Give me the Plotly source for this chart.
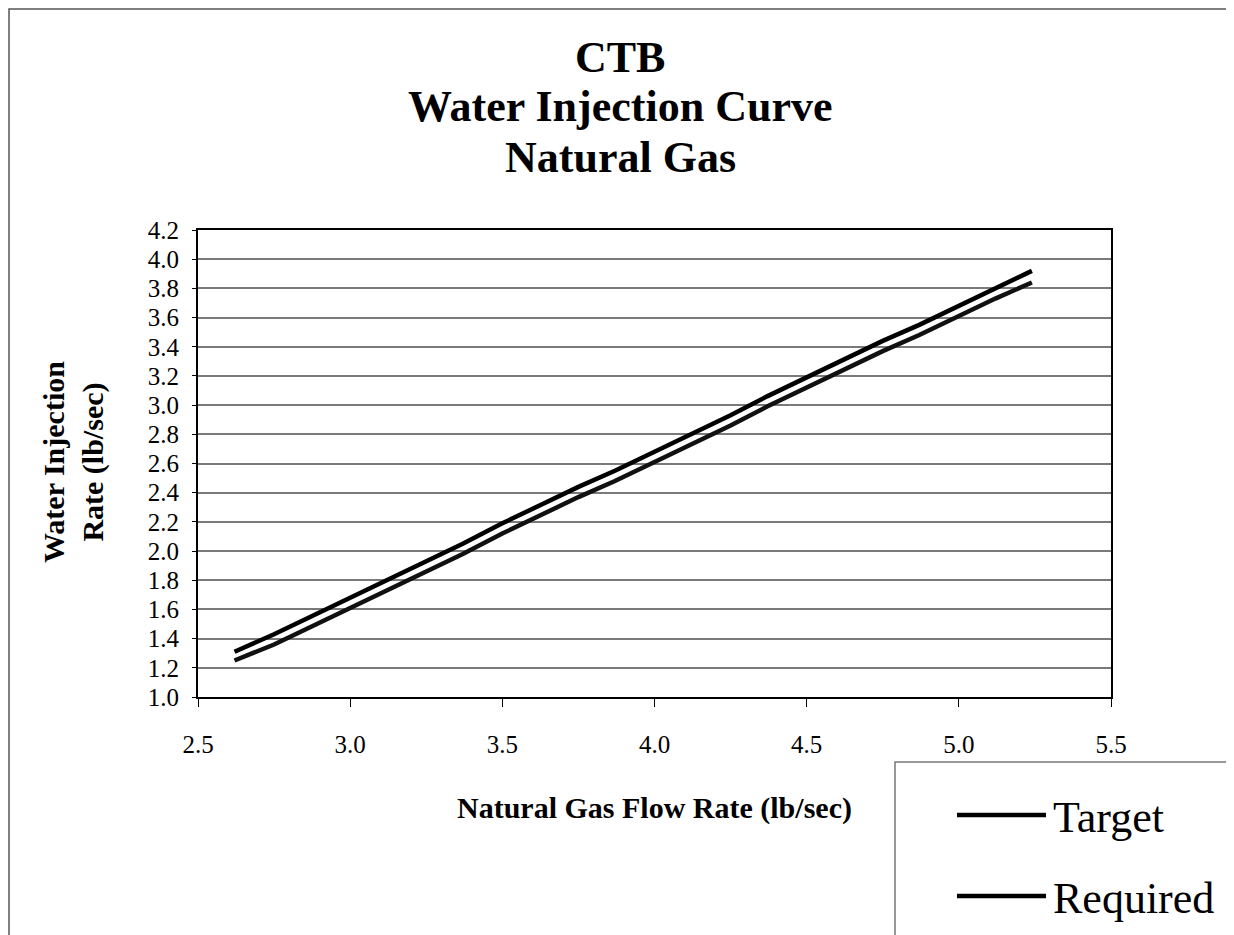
import plotly.graph_objects as go

# natural gas flow rate (lb/sec)
gas_flow = [2.62, 2.75, 2.87, 3.00, 3.12, 3.25, 3.37, 3.50, 3.62, 3.75, 3.87,
            4.00, 4.12, 4.25, 4.37, 4.50, 4.62, 4.75, 4.87, 5.00, 5.12, 5.24]

# water injection rate (lb/sec)
target = [1.31, 1.43, 1.55, 1.68, 1.80, 1.93, 2.05, 2.19, 2.31, 2.44, 2.55,
          2.68, 2.80, 2.93, 3.06, 3.19, 3.31, 3.44, 3.55, 3.68, 3.80, 3.92]
required = [1.25, 1.36, 1.48, 1.61, 1.73, 1.86, 1.98, 2.12, 2.24, 2.37, 2.48,
            2.61, 2.73, 2.86, 2.99, 3.12, 3.24, 3.37, 3.48, 3.61, 3.73, 3.84]

x_ticks = [2.5, 3.0, 3.5, 4.0, 4.5, 5.0, 5.5]
y_ticks = [1.0, 1.2, 1.4, 1.6, 1.8, 2.0, 2.2, 2.4, 2.6, 2.8, 3.0, 3.2, 3.4,
           3.6, 3.8, 4.0, 4.2]

title_lines = ["CTB", "Water Injection Curve", "Natural Gas"]

FONT = "Liberation Serif"
OFF = 8  # page body margin
W, H = 1234 - OFF, 935 - OFF
# plot area edges in page pixels
L, R, T, B = 198, 1111, 230, 697


def px_x(px):
    return (px - L) / (R - L)


def px_y(py):
    return (B - py) / (B - T)


fig = go.Figure()
fig.add_trace(go.Scatter(x=gas_flow, y=target, mode="lines", name="Target",
                         line=dict(color="black", width=4.5)))
fig.add_trace(go.Scatter(x=gas_flow, y=required, mode="lines", name="Required",
                         line=dict(color="#111111", width=4.5)))

axis_common = dict(
    showline=True, linecolor="black", linewidth=2, mirror=True,
    zeroline=False, ticks="outside", tickcolor="black",
    tickfont=dict(family=FONT, size=25, color="black"),
    tickformat=".1f",
)
fig.update_xaxes(range=[2.5, 5.5], tickvals=x_ticks, ticklen=8,
                 ticklabelstandoff=16, showgrid=False, **axis_common)
fig.update_yaxes(range=[1.0, 4.2], tickvals=y_ticks, ticklen=4,
                 ticklabelstandoff=8, showgrid=True, gridcolor="#7a7a7a",
                 gridwidth=1.5, **axis_common)

shapes = [
    # outer chart border
    dict(type="rect", xref="paper", yref="paper", x0=px_x(9), x1=px_x(1250),
         y0=px_y(9), y1=px_y(950), line=dict(color="#555555", width=1.5),
         layer="below"),
    # legend box
    dict(type="rect", xref="paper", yref="paper", x0=px_x(895), x1=px_x(1250),
         y0=px_y(762), y1=px_y(950), line=dict(color="#777777", width=1.5),
         fillcolor="white"),
]
annotations = [
    dict(text="<b>Natural Gas Flow Rate (lb/sec)</b>", xref="paper", yref="paper",
         x=px_x(654), y=px_y(808), xanchor="center", yanchor="middle",
         showarrow=False, font=dict(family=FONT, size=30, color="black")),
    dict(text="<b>Water Injection<br>Rate (lb/sec)</b>", xref="paper", yref="paper",
         x=px_x(73), y=px_y(462), xanchor="center", yanchor="middle",
         showarrow=False, textangle=-90,
         font=dict(family=FONT, size=30, color="black")),
]
for line, py in zip(title_lines, [57, 106, 158]):
    annotations.append(dict(text="<b>" + line + "</b>", xref="paper", yref="paper",
                            x=px_x(620), y=px_y(py), xanchor="center",
                            yanchor="middle", showarrow=False,
                            font=dict(family=FONT, size=44, color="black")))

legend_items = [("Target", 815), ("Required", 896)]
for name, py in legend_items:
    shapes.append(dict(type="line", xref="paper", yref="paper",
                       x0=px_x(957), x1=px_x(1046), y0=px_y(py), y1=px_y(py),
                       line=dict(color="black", width=4.5)))
    annotations.append(dict(text=name, xref="paper", yref="paper",
                            x=px_x(1051), y=px_y(py + 2), xanchor="left",
                            yanchor="middle", showarrow=False,
                            font=dict(family=FONT, size=44, color="black")))

fig.update_layout(
    width=W, height=H,
    margin=dict(l=L - OFF, r=W - (R - OFF), t=T - OFF, b=H - (B - OFF)),
    paper_bgcolor="white", plot_bgcolor="white",
    showlegend=False,
    shapes=shapes,
    annotations=annotations,
)

fig.write_html("out.html")
